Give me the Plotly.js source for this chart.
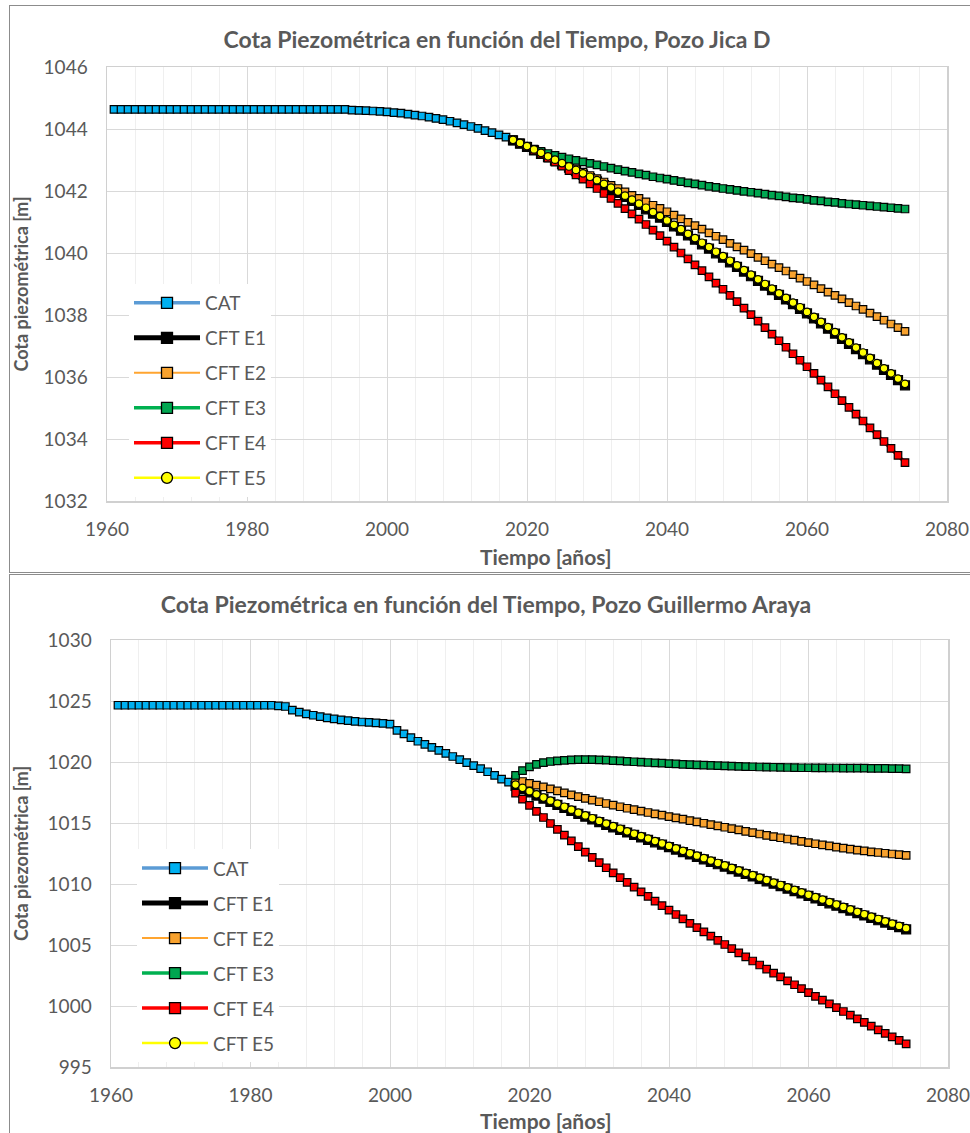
<!DOCTYPE html>
<html>
<head>
<meta charset="utf-8">
<script src="https://cdn.plot.ly/plotly-3.0.1.min.js"></script>
<style>
  html, body { margin:0; padding:0; background:#fff; overflow:hidden; width:970px; height:1133px; }
  .box { position:absolute; left:9px; width:990px; border:1px solid #8c8c8c; background:#fff; }
  #c1 { top:5px; height:566px; }
  #c2 { top:574px; height:570px; }
</style>
</head>
<body>
<div class="box" id="c1"><div id="p1"></div></div>
<div class="box" id="c2"><div id="p2"></div></div>
<script>
// ---------------- DATA ----------------
const seriesNames = ["CAT", "CFT E1", "CFT E2", "CFT E3", "CFT E4", "CFT E5"];

const yearsHist = [1961,1962,1963,1964,1965,1966,1967,1968,1969,1970,1971,1972,1973,1974,1975,1976,1977,1978,1979,1980,
  1981,1982,1983,1984,1985,1986,1987,1988,1989,1990,1991,1992,1993,1994,1995,1996,1997,1998,1999,2000,
  2001,2002,2003,2004,2005,2006,2007,2008,2009,2010,2011,2012,2013,2014,2015,2016,2017];

const yearsProj = [2018,2019,2020,2021,2022,2023,2024,2025,2026,2027,2028,2029,2030,2031,2032,2033,2034,2035,2036,2037,
  2038,2039,2040,2041,2042,2043,2044,2045,2046,2047,2048,2049,2050,2051,2052,2053,2054,2055,2056,2057,
  2058,2059,2060,2061,2062,2063,2064,2065,2066,2067,2068,2069,2070,2071,2072,2073,2074];

// Pozo Jica D
const jicaCAT = [1044.63,1044.63,1044.63,1044.63,1044.63,1044.63,1044.63,1044.63,1044.63,1044.63,
  1044.63,1044.63,1044.63,1044.63,1044.63,1044.63,1044.63,1044.63,1044.63,1044.63,
  1044.63,1044.63,1044.63,1044.63,1044.63,1044.63,1044.63,1044.63,1044.63,1044.63,
  1044.63,1044.63,1044.63,1044.63,1044.61,1044.60,1044.59,1044.58,1044.57,1044.55,
  1044.53,1044.51,1044.48,1044.45,1044.42,1044.38,1044.34,1044.30,1044.25,1044.20,
  1044.14,1044.08,1044.02,1043.95,1043.88,1043.81,1043.74];
const jicaE1 = [1043.63,1043.53,1043.42,1043.31,1043.20,1043.09,1042.98,1042.87,1042.75,1042.64,
  1042.53,1042.42,1042.31,1042.19,1042.07,1041.94,1041.81,1041.68,1041.55,1041.41,
  1041.27,1041.14,1041.00,1040.86,1040.72,1040.57,1040.43,1040.28,1040.14,1039.99,
  1039.85,1039.70,1039.55,1039.40,1039.25,1039.10,1038.95,1038.80,1038.65,1038.50,
  1038.35,1038.20,1038.05,1037.89,1037.73,1037.56,1037.40,1037.23,1037.07,1036.90,
  1036.74,1036.57,1036.40,1036.23,1036.07,1035.90,1035.73];
const jicaE2 = [1043.65,1043.55,1043.45,1043.34,1043.24,1043.13,1043.03,1042.92,1042.82,1042.71,
  1042.61,1042.50,1042.40,1042.29,1042.18,1042.08,1041.97,1041.86,1041.76,1041.65,
  1041.54,1041.44,1041.33,1041.22,1041.10,1040.99,1040.88,1040.77,1040.65,1040.54,
  1040.43,1040.31,1040.20,1040.09,1039.98,1039.86,1039.75,1039.64,1039.53,1039.42,
  1039.30,1039.19,1039.08,1038.97,1038.85,1038.74,1038.63,1038.52,1038.40,1038.29,
  1038.18,1038.06,1037.95,1037.83,1037.71,1037.59,1037.47];
const jicaE3 = [1043.62,1043.52,1043.43,1043.35,1043.28,1043.21,1043.15,1043.09,1043.04,1042.99,
  1042.94,1042.89,1042.84,1042.79,1042.74,1042.69,1042.64,1042.60,1042.55,1042.51,
  1042.46,1042.42,1042.38,1042.34,1042.30,1042.26,1042.23,1042.19,1042.15,1042.12,
  1042.08,1042.05,1042.02,1041.99,1041.96,1041.93,1041.90,1041.87,1041.84,1041.81,
  1041.78,1041.76,1041.73,1041.70,1041.68,1041.65,1041.63,1041.60,1041.58,1041.56,
  1041.54,1041.52,1041.50,1041.48,1041.46,1041.44,1041.42];
const jicaE4 = [1043.65,1043.54,1043.43,1043.31,1043.19,1043.06,1042.93,1042.80,1042.66,1042.52,
  1042.38,1042.23,1042.08,1041.92,1041.76,1041.60,1041.43,1041.26,1041.09,1040.92,
  1040.74,1040.56,1040.38,1040.19,1040.00,1039.81,1039.62,1039.43,1039.23,1039.03,
  1038.83,1038.63,1038.43,1038.22,1038.01,1037.80,1037.59,1037.38,1037.17,1036.96,
  1036.75,1036.54,1036.33,1036.12,1035.90,1035.68,1035.46,1035.24,1035.02,1034.80,
  1034.58,1034.36,1034.14,1033.92,1033.70,1033.47,1033.24];
const jicaE5 = [1043.65,1043.55,1043.45,1043.34,1043.23,1043.12,1043.01,1042.90,1042.79,1042.68,
  1042.57,1042.46,1042.35,1042.23,1042.11,1041.98,1041.85,1041.72,1041.59,1041.46,
  1041.32,1041.19,1041.05,1040.91,1040.77,1040.62,1040.48,1040.33,1040.19,1040.04,
  1039.90,1039.75,1039.60,1039.45,1039.30,1039.15,1039.00,1038.85,1038.70,1038.55,
  1038.40,1038.25,1038.10,1037.94,1037.78,1037.61,1037.45,1037.28,1037.12,1036.95,
  1036.79,1036.62,1036.45,1036.28,1036.12,1035.95,1035.78];

// Pozo Guillermo Araya
const gaCAT = [1024.65,1024.65,1024.65,1024.65,1024.65,1024.65,1024.65,1024.65,1024.65,1024.65,
  1024.65,1024.65,1024.65,1024.65,1024.65,1024.65,1024.65,1024.65,1024.65,1024.65,
  1024.65,1024.65,1024.65,1024.60,1024.55,1024.25,1024.08,1023.95,1023.83,1023.72,
  1023.62,1023.53,1023.46,1023.39,1023.33,1023.28,1023.24,1023.20,1023.16,1023.10,
  1022.60,1022.30,1022.00,1021.70,1021.45,1021.20,1020.95,1020.70,1020.45,1020.20,
  1019.95,1019.70,1019.45,1019.20,1018.90,1018.60,1018.35];
const gaE1 = [1018.05,1017.78,1017.51,1017.25,1016.99,1016.73,1016.48,1016.23,1015.99,1015.75,
  1015.52,1015.29,1015.07,1014.85,1014.64,1014.43,1014.22,1014.02,1013.82,1013.62,
  1013.42,1013.22,1013.02,1012.82,1012.62,1012.42,1012.22,1012.02,1011.82,1011.62,
  1011.42,1011.22,1011.02,1010.82,1010.62,1010.42,1010.22,1010.02,1009.82,1009.62,
  1009.42,1009.22,1009.02,1008.82,1008.62,1008.42,1008.22,1008.02,1007.82,1007.62,
  1007.42,1007.22,1007.03,1006.84,1006.65,1006.46,1006.28];
const gaE2 = [1018.55,1018.40,1018.25,1018.10,1017.96,1017.80,1017.63,1017.47,1017.31,1017.16,
  1017.02,1016.88,1016.74,1016.60,1016.46,1016.33,1016.21,1016.09,1015.97,1015.86,
  1015.75,1015.64,1015.53,1015.42,1015.31,1015.20,1015.09,1014.98,1014.87,1014.76,
  1014.65,1014.54,1014.43,1014.32,1014.21,1014.10,1013.99,1013.89,1013.79,1013.69,
  1013.59,1013.49,1013.39,1013.30,1013.21,1013.12,1013.03,1012.94,1012.86,1012.78,
  1012.71,1012.64,1012.58,1012.52,1012.46,1012.40,1012.35];
const gaE3 = [1018.90,1019.30,1019.60,1019.80,1019.95,1020.04,1020.10,1020.14,1020.17,1020.19,
  1020.20,1020.20,1020.18,1020.15,1020.12,1020.09,1020.05,1020.02,1019.99,1019.96,
  1019.93,1019.90,1019.87,1019.84,1019.81,1019.79,1019.76,1019.74,1019.72,1019.70,
  1019.68,1019.66,1019.64,1019.62,1019.61,1019.59,1019.58,1019.57,1019.56,1019.55,
  1019.54,1019.53,1019.53,1019.52,1019.52,1019.51,1019.51,1019.50,1019.50,1019.49,
  1019.49,1019.48,1019.48,1019.47,1019.46,1019.45,1019.44];
const gaE4 = [1017.45,1016.95,1016.45,1015.95,1015.45,1014.96,1014.48,1014.00,1013.53,1013.07,
  1012.62,1012.18,1011.75,1011.33,1010.92,1010.52,1010.13,1009.74,1009.36,1008.98,
  1008.60,1008.23,1007.86,1007.50,1007.14,1006.78,1006.43,1006.08,1005.73,1005.38,
  1005.04,1004.70,1004.36,1004.02,1003.69,1003.36,1003.03,1002.70,1002.38,1002.06,
  1001.74,1001.42,1001.10,1000.79,1000.48,1000.17,999.86,999.55,999.25,998.95,
  998.65,998.35,998.05,997.76,997.47,997.18,996.90];
const gaE5 = [1018.15,1017.88,1017.61,1017.35,1017.09,1016.83,1016.58,1016.33,1016.09,1015.85,
  1015.62,1015.39,1015.17,1014.95,1014.74,1014.53,1014.32,1014.12,1013.92,1013.72,
  1013.52,1013.32,1013.12,1012.92,1012.72,1012.52,1012.32,1012.12,1011.92,1011.72,
  1011.52,1011.32,1011.12,1010.92,1010.72,1010.52,1010.32,1010.12,1009.92,1009.72,
  1009.52,1009.32,1009.12,1008.92,1008.72,1008.52,1008.32,1008.12,1007.92,1007.72,
  1007.52,1007.32,1007.13,1006.94,1006.75,1006.56,1006.38];

const xTickVals = [1960, 1980, 2000, 2020, 2040, 2060, 2080];

// ---------------- STYLE ----------------
const FONT = 'Lato, "Liberation Sans", Arial, sans-serif';
const GRAY = '#595959';
const lineColors = ['#5B9BD5', '#000000', '#FFA530', '#00B050', '#FF0000', '#FFFF00'];
const fillColors = ['#00B0F0', '#000000', '#F8A22E', '#00A650', '#FF0000', '#FFFF00'];
const symbols    = ['square', 'square', 'square', 'square', 'square', 'circle'];
const plotLineW  = [3.5, 6, 2, 3.5, 3.5, 2.5];
const plotMarkW  = [7.5, 9, 7.5, 7.5, 7.5, 7.5];
const legLineW   = [3.5, 5, 2, 3.5, 3.5, 2.5];

function makeTraces(cat, proj) {
  const ys = [cat].concat(proj);
  const traces = ys.map((y, i) => ({
    type:'scatter', mode:'lines+markers',
    x: i === 0 ? yearsHist : yearsProj,
    y: y,
    name: seriesNames[i],
    legendgroup: 'g' + i,
    showlegend: false,
    line: {color: lineColors[i], width: plotLineW[i]},
    marker: {symbol: symbols[i], size: plotMarkW[i], color: fillColors[i], line:{color:'#000', width:1.2}},
    hoverinfo: 'skip'
  }));
  // legend entries (larger symbols, as in the original legend)
  seriesNames.forEach((n, i) => traces.push({
    type:'scatter', mode:'lines+markers', x:[null], y:[null], name:n, legendgroup:'g' + i, showlegend:true,
    line: {color: lineColors[i], width: legLineW[i]},
    marker: {symbol: symbols[i], size: 11, color: fillColors[i], line:{color:'#000', width:1.3}},
    hoverinfo:'skip'
  }));
  return traces;
}

function makeLayout(o) {
  return {
    width: 990, height: o.h,
    margin: {l:o.l, r:o.r, t:o.t, b:o.b},
    paper_bgcolor:'#fff', plot_bgcolor:'#fff',
    font: {family: FONT, color: GRAY, size: 19},
    title: {text: o.title, xref:'container', yref:'container', x:o.tx, xanchor:'center', y:o.ty, yanchor:'middle',
            font:{family: FONT, size: 23, color: GRAY, weight: 'bold'}},
    showlegend: true,
    legend: {x:o.lx, y:o.ly, xanchor:'left', yanchor:'top', bgcolor:'#fff', borderwidth:0,
             traceorder:'grouped', tracegroupgap: 7.3, itemwidth: 66,
             font:{family: FONT, size: 19, color: GRAY}},
    annotations: [{text:'<b>Tiempo [años]</b>', xref:'paper', yref:'paper', x:o.atx, y:o.aty, xanchor:'center', yanchor:'middle',
                   showarrow:false, font:{family: FONT, size: 21, color: GRAY}}],
    xaxis: {
      range:[1960, 2080], tickvals: xTickVals, ticks:'', showgrid:true, gridcolor:'#D9D9D9', gridwidth:1,
      minor:{dtick:4, tick0:1960, showgrid:true, gridcolor:'#EFEFEF', gridwidth:1},
      showline:true, linecolor:'#D0D0D0', linewidth:1.5, mirror:true, zeroline:false,
      tickfont:{family: FONT, size: 19, color: GRAY}, ticklabelstandoff: o.xstand, ticklabeloverflow:'allow'
    },
    yaxis: {
      range:o.yr, dtick:o.dy, tick0:o.yr[0], ticks:'', showgrid:true, gridcolor:'#D9D9D9', gridwidth:1,
      showline:true, linecolor:'#D0D0D0', linewidth:1.5, mirror:true, zeroline:false,
      tickfont:{family: FONT, size: 19, color: GRAY}, ticklabelstandoff: 14,
      title:{text:'Cota piezométrica [m]', standoff: 15, font:{family: FONT, size: 18, color: GRAY, weight:'bold'}}
    }
  };
}

const cfg = {displayModeBar:false, staticPlot:true};

// chart 1 plot area: page x 107..947, y 67..501 ; chart 2: x 111..948, y 640..1067
Plotly.newPlot('p1', makeTraces(jicaCAT, [jicaE1, jicaE2, jicaE3, jicaE4, jicaE5]),
  makeLayout({h:566, l:97, r:53, t:61, b:71, title:'Cota Piezométrica en función del Tiempo, Pozo Jica D',
              tx:487/990, ty:1-34/566, lx:22/840, ly:0.50, yr:[1032,1046], dy:2, xstand:11,
              atx:(545-107)/840, aty:-55/434}), cfg);

Plotly.newPlot('p2', makeTraces(gaCAT, [gaE1, gaE2, gaE3, gaE4, gaE5]),
  makeLayout({h:558, l:101, r:52, t:65, b:66, title:'Cota Piezométrica en función del Tiempo, Pozo Guillermo Araya',
              tx:476/990, ty:1-30/558, lx:26/837, ly:0.51, yr:[995,1030], dy:5, xstand:11,
              atx:(545-111)/837, aty:-53/427}), cfg);
</script>
</body>
</html>
